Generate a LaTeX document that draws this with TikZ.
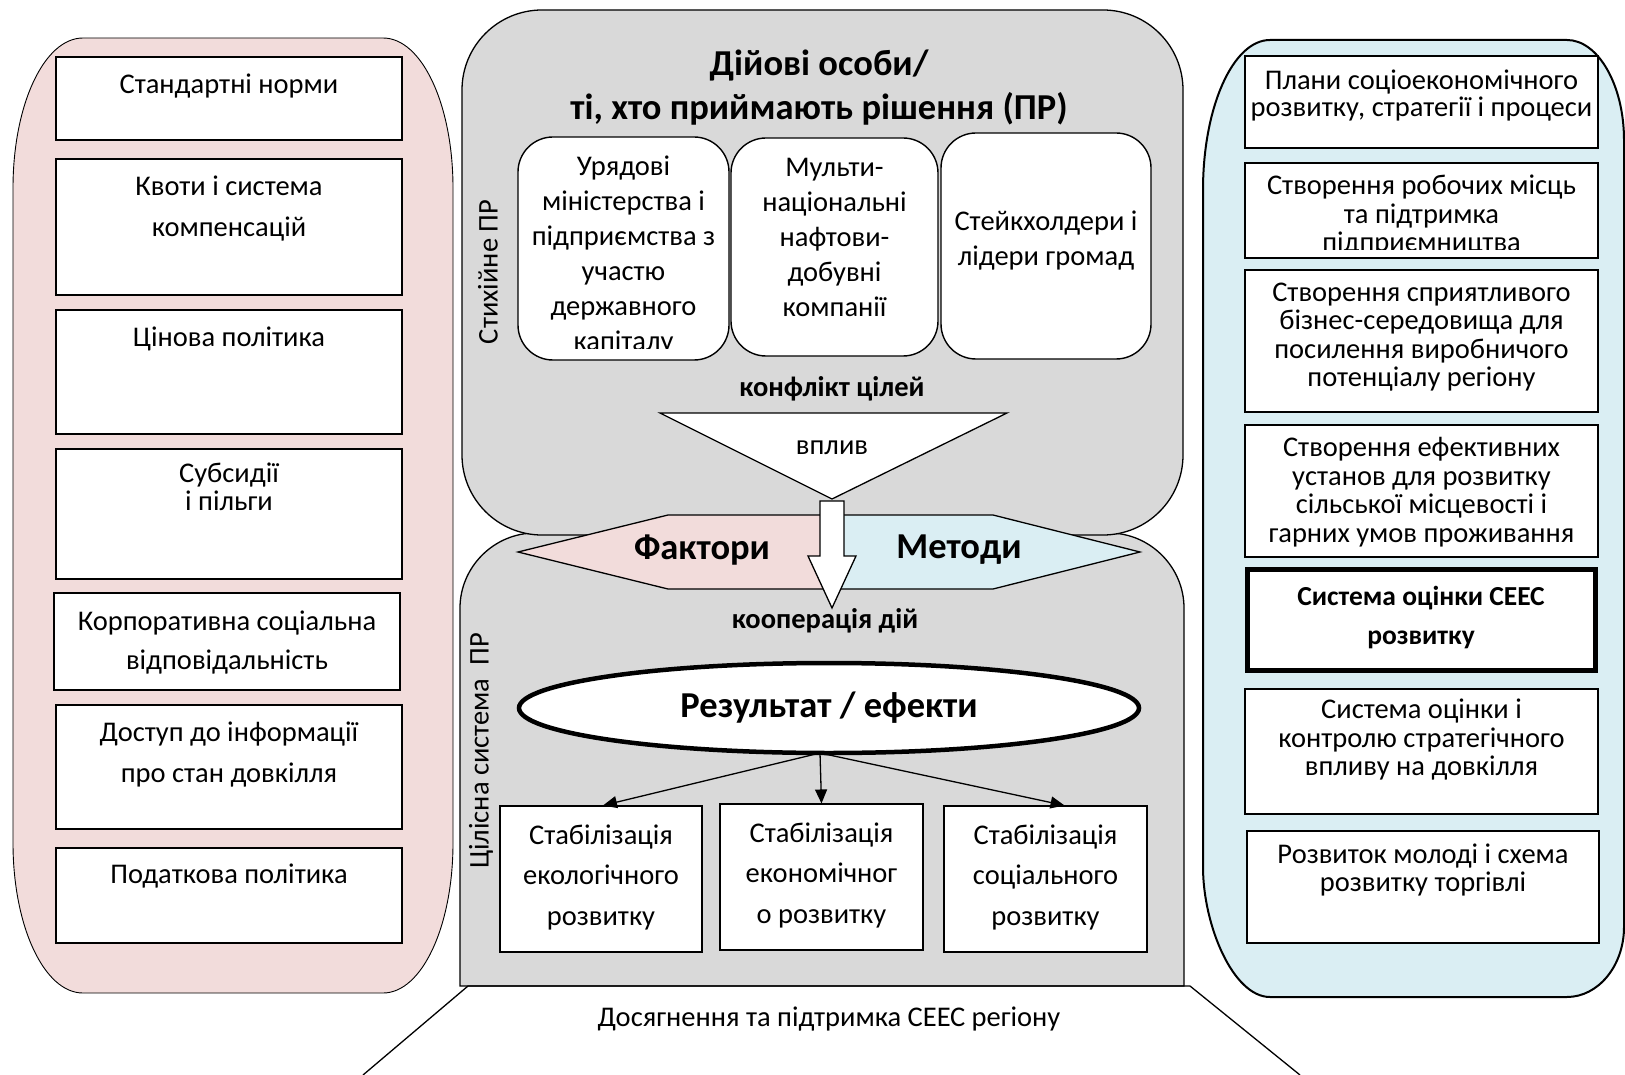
\documentclass[tikz,border=0pt]{standalone}
\usepackage{fontspec}
\setmainfont{Carlito}
\usetikzlibrary{shapes.geometric,arrows.meta}

\definecolor{pinkfill}{HTML}{F2DCDB}
\definecolor{bluefill}{HTML}{DAEEF3}
\definecolor{greyfill}{HTML}{D9D9D9}

\begin{document}
\begin{tikzpicture}[x=1pt,y=-1pt,
  panel/.style={draw,line width=1.3pt},
  box/.style={draw,fill=white,line width=1.1pt,inner sep=0pt},
  actor/.style={box,rounded corners=35pt,line width=1.4pt},
  sidetxt/.style={align=center,inner sep=0pt,font=\fontsize{28.5}{41}\selectfont},
  righttxt/.style={align=center,inner sep=0pt,font=\fontsize{28.5}{28.5}\selectfont},
  midtxt/.style={align=center,inner sep=0pt,font=\fontsize{28.5}{35}\selectfont},
  stabtxt/.style={align=center,inner sep=0pt,font=\fontsize{28.5}{40.5}\selectfont},
  boldtxt/.style={align=center,inner sep=0pt,font=\bfseries\fontsize{28.5}{39}\selectfont},
  bigtxt/.style={align=center,inner sep=0pt,font=\bfseries\fontsize{36.5}{44}\selectfont},
  flow/.style={-{Triangle[length=14pt,width=12pt]},line width=1.3pt}]

\useasboundingbox (0,0) rectangle (1625,1075);

% left panel
\draw[panel,line width=0.9pt,fill=pinkfill] (13,188) .. controls (13,105) and (44,38) .. (83,38)
  -- (383,38) .. controls (422,38) and (453,105) .. (453,188)
  -- (453,843) .. controls (453,926) and (422,993) .. (383,993)
  -- (83,993) .. controls (44,993) and (13,926) .. (13,843) -- cycle;

% right panel
\draw[panel,line width=2pt,fill=bluefill] (1203,190) .. controls (1203,107) and (1233,40) .. (1270,40)
  -- (1567,40) .. controls (1598,40) and (1624,85) .. (1624,140)
  -- (1624,927) .. controls (1624,966) and (1598,997) .. (1567,997)
  -- (1270,997) .. controls (1233,997) and (1203,925) .. (1203,867) -- cycle;

% middle panels
\draw[panel,fill=greyfill] (460,986) -- (460,608) .. controls (460,567) and (494,533) .. (535,533)
  -- (1109,533) .. controls (1150,533) and (1184,567) .. (1184,608) -- (1184,986) -- cycle;
\draw[panel,fill=greyfill,rounded corners=80pt] (462,10) rectangle (1183,535);

% left boxes
\node[box,minimum width=346pt,minimum height=83pt] (norms) at (229,98.5) {};
\node[sidetxt] (norms-t) at (229,86) {Стандартні норми};
\node[box,minimum width=346pt,minimum height=136pt] (quota) at (229,227) {};
\node[sidetxt] (quota-t) at (229,209) {Квоти і система\\компенсацій};
\node[box,minimum width=346pt,minimum height=124pt] (price) at (229,372) {};
\node[sidetxt] (price-t) at (229,339) {Цінова політика};
\node[box,minimum width=346pt,minimum height=130pt] (subs) at (229,514) {};
\node[sidetxt,font=\fontsize{28.5}{28}\selectfont] (subs-t) at (229,486.5) {Субсидії\\і пільги};
\node[box,minimum width=346pt,minimum height=97pt] (csr) at (227,641.5) {};
\node[sidetxt,font=\fontsize{28.5}{39.5}\selectfont] (csr-t) at (227,642.5) {Корпоративна соціальна\\відповідальність};
\node[box,minimum width=346pt,minimum height=124pt] (info) at (229,767) {};
\node[sidetxt,font=\fontsize{28.5}{40.5}\selectfont] (info-t) at (229,754.5) {Доступ до інформації\\про стан довкілля};
\node[box,minimum width=346pt,minimum height=95pt] (tax) at (229,895.5) {};
\node[sidetxt] (tax-t) at (229,876) {Податкова політика};

% right boxes
\node[box,minimum width=353pt,minimum height=92pt] (plans) at (1421.5,102) {};
\node[righttxt,font=\fontsize{28.5}{27}\selectfont] (plans-t) at (1421.5,95.5) {Плани соціоекономічного\\розвитку, стратегії і процеси};
\node[box,minimum width=353pt,minimum height=95pt] (jobs) at (1421.5,210.5) {};
\begin{scope}
\clip (1246,164) rectangle (1597,250);
\node[righttxt] (jobs-t) at (1421.5,216) {Створення робочих місць\\та підтримка\\підприємництва};
\end{scope}
\node[box,minimum width=353pt,minimum height=142pt] (biz) at (1421.5,341) {};
\node[righttxt] (biz-t) at (1421.5,337) {Створення сприятливого\\бізнес-середовища для\\посилення виробничого\\потенціалу регіону};
\node[box,minimum width=353pt,minimum height=132pt] (rural) at (1421.5,491) {};
\begin{scope}
\clip (1246,426) rectangle (1597,553);
\node[righttxt] (rural-t) at (1421.5,492) {Створення ефективних\\установ для розвитку\\сільської місцевості і\\гарних умов проживання};
\end{scope}
\node[box,line width=5pt,minimum width=348pt,minimum height=101pt] (ceec) at (1421,620) {};
\node[boldtxt,font=\bfseries\fontsize{27.5}{39}\selectfont] (ceec-t) at (1421,617.5) {Система оцінки СЕЕС\\розвитку};
\node[box,minimum width=353pt,minimum height=125pt] (sea) at (1421.5,751.5) {};
\node[righttxt] (sea-t) at (1421.5,740) {Система оцінки і\\контролю стратегічного\\впливу на довкілля};
\node[box,minimum width=352pt,minimum height=112pt] (youth) at (1423,887) {};
\node[righttxt] (youth-t) at (1423,870) {Розвиток молоді і схема\\розвитку торгівлі};

% decision makers
\node[bigtxt] (title) at (819,87.5) {Дійові особи/\\ті, хто приймають рішення (ПР)};
\node[actor,minimum width=211pt,minimum height=223pt] (gov) at (623.5,248.5) {};
\begin{scope}
\clip (520,139) rectangle (728,348);
\node[midtxt] (gov-t) at (623.5,255) {Урядові\\міністерства і\\підприємства з\\участю\\державного\\капіталу};
\end{scope}
\node[actor,minimum width=207pt,minimum height=218pt] (oil) at (834.5,247) {};
\node[midtxt] (oil-t) at (834.5,237) {Мульти-\\національні\\нафтови-\\добувні\\компанії};
\node[actor,minimum width=210pt,minimum height=226pt] (stake) at (1046,246) {};
\node[midtxt] (stake-t) at (1046,241) {Стейкхолдери і\\лідери громад};
\node[midtxt,rotate=90] (spont) at (488,272) {Стихійне ПР};

\node[boldtxt] (conflict) at (832,389) {конфлікт цілей};
\draw[line width=1.3pt,fill=white] (660,413) -- (1007,413) -- (832,499) -- cycle;
\node[midtxt] (impact) at (832,448) {вплив};

% factors and methods
\draw[line width=1.3pt,fill=pinkfill] (518,552) -- (668,515) -- (832,515) -- (832,589) -- (668,589) -- cycle;
\draw[line width=1.3pt,fill=bluefill] (832,515) -- (993,515) -- (1140,552) -- (993,589) -- (832,589) -- cycle;
\node[bigtxt] (factors) at (702,550) {Фактори};
\node[bigtxt] (methods) at (959,550) {Методи};
\draw[line width=1.3pt,fill=white] (820,501) -- (844,501) -- (844,556) -- (856,556) -- (832,608)
  -- (808,556) -- (820,556) -- cycle;

% integrated system
\node[midtxt,rotate=90] (whole) at (481,751) {Цілісна система~~ПР};
\node[boldtxt] (coop) at (825,621) {кооперація дій};
\node[draw,ellipse,fill=white,line width=4.5pt,minimum width=620pt,minimum height=90pt,inner sep=0pt,
  font=\bfseries\fontsize{36.5}{44}\selectfont] (result) at (829,708) {Результат / ефекти};
\coordinate (hub) at (820,753);

\node[box,minimum width=202pt,minimum height=146pt] (eco) at (601,879) {};
\node[stabtxt] (eco-t) at (601,877) {Стабілізація\\екологічного\\розвитку};
\node[box,minimum width=203pt,minimum height=146pt] (econ) at (821.5,877) {};
\node[stabtxt] (econ-t) at (821.5,875) {Стабілізація\\економічног\\о розвитку};
\node[box,minimum width=203pt,minimum height=146pt] (soc) at (1045.5,879) {};
\node[stabtxt] (soc-t) at (1045.5,877) {Стабілізація\\соціального\\розвитку};

\draw[flow] (hub) -- ([xshift=2pt]eco.north);
\draw[flow] (hub) -- (econ.north);
\draw[flow] (hub) -- ([xshift=19pt]soc.north);

% achievement
\coordinate (tl) at (468,986);
\coordinate (tr) at (1190,986);
\draw[line width=1.3pt] (363,1075) -- (tl) -- (tr) -- (1300,1075);
\node[midtxt] (goal) at (829,1019) {Досягнення та підтримка СЕЕС регіону};

\end{tikzpicture}
\end{document}
